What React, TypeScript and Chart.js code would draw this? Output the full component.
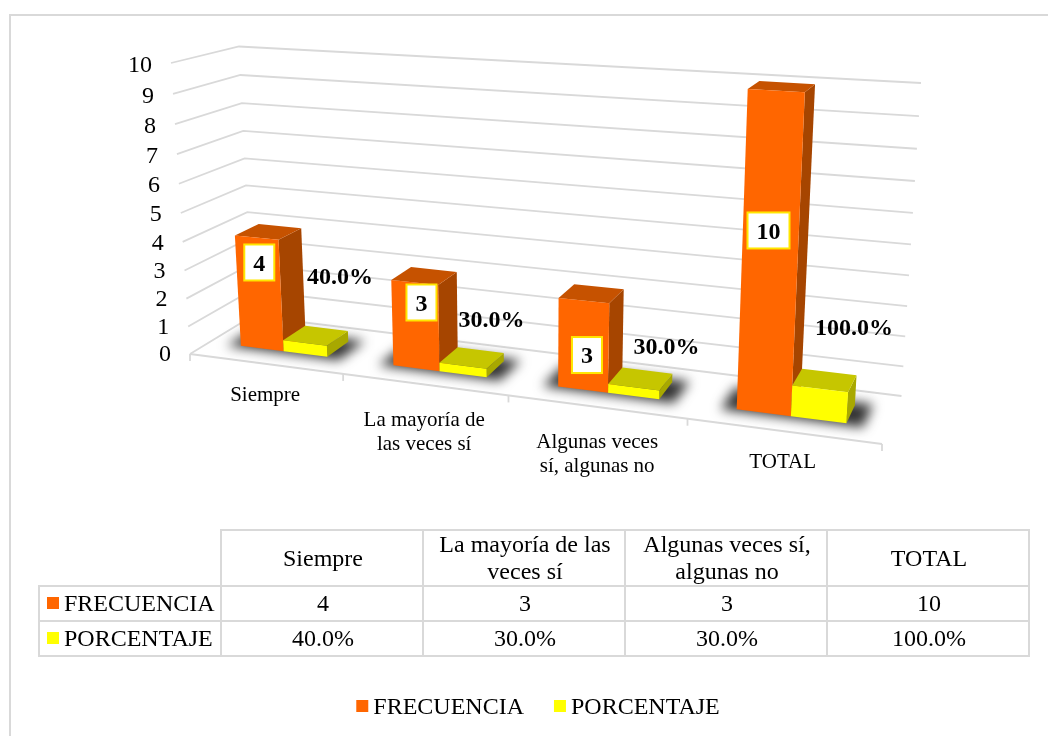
import React, { useEffect, useRef } from "react";
import { Chart, registerables } from "chart.js";

Chart.register(...registerables);

const CATEGORIES = ["Siempre", "La mayoría de las veces sí", "Algunas veces sí, algunas no", "TOTAL"];
const AXIS_LABEL_LINES = [["Siempre"], ["La mayoría de", "las veces sí"], ["Algunas veces", "sí, algunas no"], ["TOTAL"]];
const FRECUENCIA = [4, 3, 3, 10];
const PORCENTAJE = [0.4, 0.3, 0.3, 1];
const SERIES_NAMES = ["FRECUENCIA", "PORCENTAJE"];
const fmtPct = (v: number) => (v * 100).toFixed(1) + "%";

const FONT = '"Liberation Serif", "Times New Roman", serif';
const ORANGE = { front: "#FF6600", top: "#C65200", side: "#A64500" };
const YELLOW = { front: "#FFFF00", top: "#C6C600", side: "#A8A800" };
const GRID = "#D9D9D9";

// Perspective box of the 3D plot (screen corners of the walls and floor).
const BOX = {
  fbl: [190, 354], ftl: [171, 63], fbr: [882, 444], ftr: [901, 105],
  bbl: [252.5, 316], btl: [239, 46.5], bbr: [901.5, 396], btr: [921, 83],
};
const PX = 0.8526; // horizontal foreshortening
const PV = 0.94; // vertical foreshortening
const W0 = 0.32; // bar depth range
const W1 = 0.7;

const lerp = (a: number[], b: number[], t: number) => [a[0] + (b[0] - a[0]) * t, a[1] + (b[1] - a[1]) * t];
function project(u: number, v: number, w: number) {
  const f = (PX * u) / (1 + (PX - 1) * u);
  const g = (PV * v) / (1 + (PV - 1) * v);
  const fb = lerp(BOX.fbl, BOX.fbr, f);
  const ft = lerp(BOX.ftl, BOX.ftr, f);
  const bb = lerp(BOX.bbl, BOX.bbr, f);
  const bt = lerp(BOX.btl, BOX.btr, f);
  return lerp(lerp(fb, ft, g), lerp(bb, bt, g), w);
}

// Hand-placed label offsets relative to their bar's top-front centre.
const VALUE_OFFSET = [[2.7, 24.8], [6.9, 19.9], [3.2, 54.4], [-7.6, 139.9]];
const PCT_OFFSET = [[35.1, -66.1], [28.6, -45.7], [32.8, -40.2], [34, -60.9]];
const CAT_OFFSET = [[0, 32], [0, 36], [1, 36], [0, 31]];
const CAT_LINE_STEP = 24;

function poly(ctx: CanvasRenderingContext2D, pts: number[][], fill: string) {
  ctx.beginPath();
  pts.forEach((p, i) => (i ? ctx.lineTo(p[0], p[1]) : ctx.moveTo(p[0], p[1])));
  ctx.closePath();
  ctx.fillStyle = fill;
  ctx.fill();
}
function line(ctx: CanvasRenderingContext2D, pts: number[][]) {
  ctx.beginPath();
  pts.forEach((p, i) => (i ? ctx.lineTo(p[0], p[1]) : ctx.moveTo(p[0], p[1])));
  ctx.stroke();
}

const scene3d = {
  id: "scene3d",
  beforeDatasetsDraw(chart: any) {
    const ctx: CanvasRenderingContext2D = chart.ctx;
    const xs = chart.scales.x;
    const ys = chart.scales.y;
    const U = (px: number) => (px - xs.left) / xs.width;
    const V = (py: number) => (ys.bottom - py) / ys.height;
    const n = chart.data.labels.length;
    ctx.save();

    // Walls: gridlines and value labels.
    ctx.strokeStyle = GRID;
    ctx.lineWidth = 1.8;
    ys.ticks.forEach((t: any) => {
      const v = V(ys.getPixelForValue(t.value));
      const a = project(0, v, 0);
      line(ctx, [a, project(0, v, 1), project(1, v, 1)]);
      ctx.fillStyle = "#000";
      ctx.font = `24px ${FONT}`;
      ctx.textAlign = "right";
      ctx.textBaseline = "middle";
      ctx.fillText(String(t.label), a[0] - 19, a[1] + 1 + 2 * v);
    });
    // Floor front edge with category ticks.
    line(ctx, [project(0, 0, 0), project(1, 0, 0)]);
    for (let i = 0; i <= n; i++) {
      const p = project(i / n, 0, 0);
      line(ctx, [p, [p[0], p[1] + 7]]);
    }

    // Category labels.
    ctx.font = `21px ${FONT}`;
    ctx.fillStyle = "#000";
    ctx.textAlign = "center";
    AXIS_LABEL_LINES.forEach((lines, i) => {
      const p = project(U(xs.getPixelForValue(i)), 0, 0);
      lines.forEach((s, k) => ctx.fillText(s, p[0] + CAT_OFFSET[i][0], p[1] + CAT_OFFSET[i][1] + k * CAT_LINE_STEP));
    });

    const bars = [chart.getDatasetMeta(0).data, chart.getDatasetMeta(1).data];

    // Floor shadows.
    ctx.filter = "blur(6px)";
    for (let i = 0; i < n; i++) {
      const a = bars[0][i];
      const b = bars[1][i];
      const u0 = U(a.x - a.width / 2) - 0.02;
      const u1 = U(b.x + b.width / 2) + 0.022;
      poly(ctx, [project(u0, 0, W0 - 0.04), project(u1, 0, W0 - 0.04), project(u1, 0, W1 + 0.06), project(u0, 0, W1 + 0.06)], "#333333");
    }
    ctx.filter = "none";

    // Bars.
    for (let i = 0; i < n; i++) {
      [0, 1].forEach((d) => {
        const el = bars[d][i];
        const c = d === 0 ? ORANGE : YELLOW;
        const u0 = U(el.x - el.width / 2);
        const u1 = U(el.x + el.width / 2);
        const v = V(el.y);
        poly(ctx, [project(u1, 0, W0), project(u1, 0, W1), project(u1, v, W1), project(u1, v, W0)], c.side);
        poly(ctx, [project(u0, v, W0), project(u1, v, W0), project(u1, v, W1), project(u0, v, W1)], c.top);
        poly(ctx, [project(u0, 0, W0), project(u1, 0, W0), project(u1, v, W0), project(u0, v, W0)], c.front);
      });
    }

    // Data labels.
    ctx.textAlign = "center";
    ctx.textBaseline = "middle";
    ctx.font = `bold 24px ${FONT}`;
    for (let i = 0; i < n; i++) {
      const a = bars[0][i];
      const pa = project(U(a.x), V(a.y), W0);
      const cx = pa[0] + VALUE_OFFSET[i][0];
      const cy = pa[1] + VALUE_OFFSET[i][1];
      const text = String(chart.data.datasets[0].data[i]);
      const hw = (ctx.measureText(text).width + 18) / 2;
      ctx.fillStyle = "#FFF";
      ctx.fillRect(cx - hw, cy - 18, hw * 2, 36);
      ctx.strokeStyle = "#FFE600";
      ctx.lineWidth = 2;
      ctx.strokeRect(cx - hw, cy - 18, hw * 2, 36);
      ctx.fillStyle = "#000";
      ctx.fillText(text, cx, cy + 2);

      const b = bars[1][i];
      const pb = project(U(b.x), V(b.y), W0);
      ctx.fillText(fmtPct(chart.data.datasets[1].data[i]), pb[0] + PCT_OFFSET[i][0], pb[1] + PCT_OFFSET[i][1] + 1);
    }

    // Legend.
    ctx.font = `24px ${FONT}`;
    ctx.textAlign = "left";
    const gap = 5;
    const swatch = 12;
    const between = 30;
    const widths = chart.data.datasets.map((d: any) => ctx.measureText(d.label).width + swatch + gap);
    let lx = 538 - (widths[0] + widths[1] + between) / 2;
    chart.data.datasets.forEach((d: any, i: number) => {
      ctx.fillStyle = d.backgroundColor;
      ctx.fillRect(lx, 700, swatch, swatch);
      ctx.fillStyle = "#000";
      ctx.fillText(d.label, lx + swatch + gap, 708);
      lx += widths[i] + between;
    });

    ctx.restore();
    return false;
  },
};

const cell: React.CSSProperties = {
  border: `2px solid ${GRID}`,
  textAlign: "center",
  padding: "0 0 0 2px",
  verticalAlign: "middle",
  boxSizing: "border-box",
};

export default function App() {
  const ref = useRef<HTMLCanvasElement>(null);
  useEffect(() => {
    const chart = new Chart(ref.current!, {
      type: "bar",
      data: {
        labels: CATEGORIES,
        datasets: [
          { label: SERIES_NAMES[0], data: FRECUENCIA, backgroundColor: ORANGE.front, categoryPercentage: 0.576, barPercentage: 1 },
          { label: SERIES_NAMES[1], data: PORCENTAJE, backgroundColor: YELLOW.front, categoryPercentage: 0.576, barPercentage: 1 },
        ],
      },
      options: {
        responsive: false,
        animation: false,
        layout: { padding: { left: 170, right: 120, top: 60, bottom: 380 } },
        plugins: { legend: { display: false }, tooltip: { enabled: false } },
        scales: {
          x: { ticks: { display: false }, grid: { display: false }, border: { display: false } },
          y: { min: 0, max: 10, ticks: { display: false, stepSize: 1 }, grid: { display: false }, border: { display: false } },
        },
      },
      plugins: [scene3d],
    } as any);
    return () => chart.destroy();
  }, []);

  return (
    <div style={{ position: "absolute", left: 0, top: 0, width: 1048, height: 736, overflow: "hidden", background: "#fff", fontFamily: FONT, color: "#000" }}>
      <div style={{ position: "absolute", left: 9, top: 14, width: 1300, height: 1000, border: `2px solid ${GRID}` }} />
      <canvas ref={ref} width={1048} height={736} style={{ position: "absolute", left: 0, top: 0, display: "block" }} />
      <table style={{ position: "absolute", left: 38, top: 529, width: 991, borderCollapse: "collapse", tableLayout: "fixed", fontSize: 24, lineHeight: "27px" }}>
        <colgroup>
          <col style={{ width: 182 }} />
          {CATEGORIES.map((c) => <col key={c} style={{ width: 202 }} />)}
        </colgroup>
        <tbody>
          <tr style={{ height: 54 }}>
            <td style={{ ...cell, borderTop: "none", borderLeft: "none" }} />
            {CATEGORIES.map((c) => <td key={c} style={cell}>{c}</td>)}
          </tr>
          {[FRECUENCIA, PORCENTAJE].map((vals, r) => (
            <tr key={r} style={{ height: 35 }}>
              <td style={{ ...cell, padding: 0, textAlign: "left", whiteSpace: "nowrap" }}>
                <span style={{ display: "inline-block", width: 12, height: 12, margin: "0 5px 0 7px", position: "relative", top: -2, background: r === 0 ? ORANGE.front : YELLOW.front }} />
                {SERIES_NAMES[r]}
              </td>
              {vals.map((v, i) => <td key={i} style={cell}>{r === 0 ? v : fmtPct(v)}</td>)}
            </tr>
          ))}
        </tbody>
      </table>
    </div>
  );
}
